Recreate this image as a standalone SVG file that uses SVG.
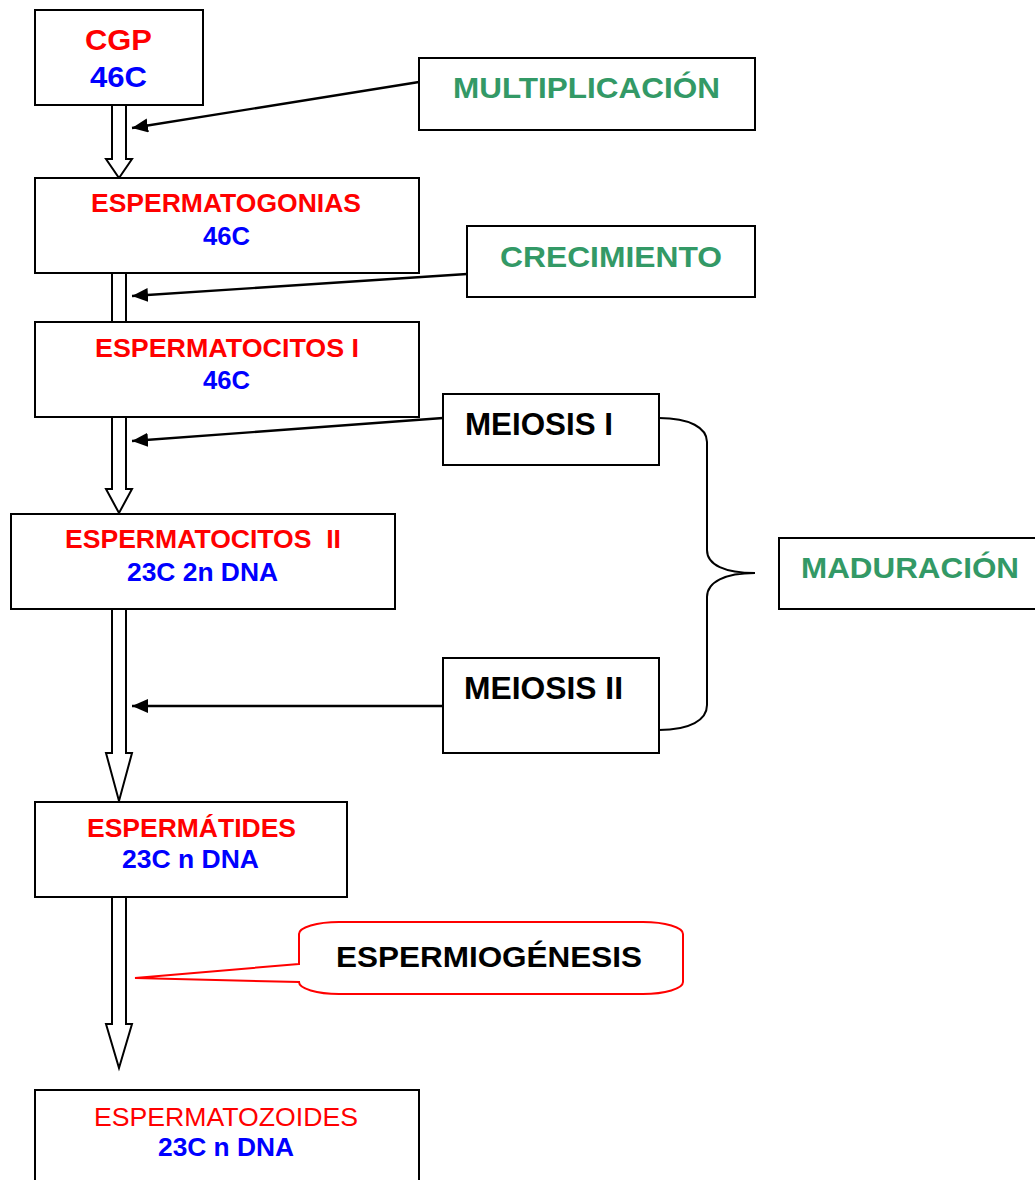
<svg xmlns="http://www.w3.org/2000/svg" width="1035" height="1180" viewBox="0 0 1035 1180">
<defs>
<style>
.box{fill:#fff;stroke:#000;stroke-width:2}
.hollow{fill:#fff;stroke:#000;stroke-width:2;stroke-linejoin:miter}
.conn{stroke:#000;stroke-width:2.4;fill:none}
.brace{stroke:#000;stroke-width:2;fill:none}
.callout{fill:#fff;stroke:#ff0000;stroke-width:2}
text{font-family:"Liberation Sans",Arial,sans-serif;font-weight:bold}
.red{fill:#ff0000}
.blue{fill:#0000ff}
.green{fill:#339966}
.black{fill:#000}
.normal{font-weight:normal}
</style>
<marker id="ah" markerWidth="17" markerHeight="15" refX="16" refY="7" orient="auto" markerUnits="userSpaceOnUse">
<path d="M0,0 L16,7 L0,14 Z" fill="#000"/>
</marker>
</defs>

<g id="flow-arrows">
<path class="hollow" d="M112,105 L112,159 L106,159 L119,178 L132,159 L126,159 L126,105"/>
<path class="hollow" d="M112,273 L112,322 M126,273 L126,322"/>
<path class="hollow" d="M112,417 L112,489 L106,489 L119,513 L132,489 L126,489 L126,417"/>
<path class="hollow" d="M112,609 L112,753 L106,753 L119,801 L132,753 L126,753 L126,609"/>
<path class="hollow" d="M112,897 L112,1024 L106,1024 L119,1068 L132,1024 L126,1024 L126,897"/>
</g>

<g id="connectors">
<line class="conn" x1="419" y1="82" x2="132" y2="128" marker-end="url(#ah)"/>
<line class="conn" x1="467" y1="274" x2="132" y2="296" marker-end="url(#ah)"/>
<line class="conn" x1="443" y1="418" x2="132" y2="441" marker-end="url(#ah)"/>
<line class="conn" x1="443" y1="706" x2="132" y2="706" marker-end="url(#ah)"/>
<path class="brace" d="M659,418 C690,418 707,428 707,442 L707,550 C707,565 725,573 755,573 C725,573 707,582 707,597 L707,705 C707,720 690,730 659,730"/>
</g>

<g id="cgp">
<rect class="box" x="35" y="10" width="168" height="95"/>
<text class="red" x="85" y="50" font-size="30" textLength="67" lengthAdjust="spacingAndGlyphs">CGP</text>
<text class="blue" x="90" y="87" font-size="30" textLength="57" lengthAdjust="spacingAndGlyphs">46C</text>
</g>

<g id="multiplicacion">
<rect class="box" x="419" y="58" width="336" height="72"/>
<text class="green" x="453" y="98" font-size="30" textLength="267" lengthAdjust="spacingAndGlyphs">MULTIPLICACIÓN</text>
</g>

<g id="espermatogonias">
<rect class="box" x="35" y="178" width="384" height="95"/>
<text class="red" x="91" y="212" font-size="25" textLength="270" lengthAdjust="spacingAndGlyphs">ESPERMATOGONIAS</text>
<text class="blue" x="203" y="245" font-size="25" textLength="47" lengthAdjust="spacingAndGlyphs">46C</text>
</g>

<g id="crecimiento">
<rect class="box" x="467" y="226" width="288" height="71"/>
<text class="green" x="500" y="267" font-size="30" textLength="222" lengthAdjust="spacingAndGlyphs">CRECIMIENTO</text>
</g>

<g id="espermatocitos1">
<rect class="box" x="35" y="322" width="384" height="95"/>
<text class="red" x="95" y="357" font-size="25" textLength="264" lengthAdjust="spacingAndGlyphs">ESPERMATOCITOS I</text>
<text class="blue" x="203" y="389" font-size="25" textLength="47" lengthAdjust="spacingAndGlyphs">46C</text>
</g>

<g id="meiosis1">
<rect class="box" x="443" y="394" width="216" height="71"/>
<text class="black" x="465" y="435" font-size="31" textLength="148" lengthAdjust="spacingAndGlyphs">MEIOSIS I</text>
</g>

<g id="espermatocitos2">
<rect class="box" x="11" y="514" width="384" height="95"/>
<text class="red" x="65" y="548" font-size="25" textLength="276" lengthAdjust="spacingAndGlyphs" xml:space="preserve">ESPERMATOCITOS  II</text>
<text class="blue" x="127" y="581" font-size="25" textLength="151" lengthAdjust="spacingAndGlyphs">23C 2n DNA</text>
</g>

<g id="maduracion">
<rect class="box" x="779" y="538" width="258" height="71"/>
<text class="green" x="801" y="578" font-size="30" textLength="218" lengthAdjust="spacingAndGlyphs">MADURACIÓN</text>
</g>

<g id="meiosis2">
<rect class="box" x="443" y="658" width="216" height="95"/>
<text class="black" x="464" y="699" font-size="31" textLength="159" lengthAdjust="spacingAndGlyphs">MEIOSIS II</text>
</g>

<g id="espermatides">
<rect class="box" x="35" y="802" width="312" height="95"/>
<text class="red" x="87" y="837" font-size="25" textLength="209" lengthAdjust="spacingAndGlyphs">ESPERMÁTIDES</text>
<text class="blue" x="122" y="868" font-size="25" textLength="137" lengthAdjust="spacingAndGlyphs">23C n DNA</text>
</g>

<g id="espermiogenesis">
<path class="callout" d="M299,964 L135,978 L299,982 A40,12 0 0 0 339,994 L643,994 A40,12 0 0 0 683,982 L683,934 A40,12 0 0 0 643,922 L339,922 A40,12 0 0 0 299,934 Z"/>
<text class="black" x="336" y="967" font-size="29" textLength="306" lengthAdjust="spacingAndGlyphs">ESPERMIOGÉNESIS</text>
</g>

<g id="espermatozoides">
<rect class="box" x="35" y="1090" width="384" height="95"/>
<text class="red normal" x="94" y="1126" font-size="25" textLength="264" lengthAdjust="spacingAndGlyphs">ESPERMATOZOIDES</text>
<text class="blue" x="158" y="1156" font-size="25" textLength="136" lengthAdjust="spacingAndGlyphs">23C n DNA</text>
</g>
</svg>
